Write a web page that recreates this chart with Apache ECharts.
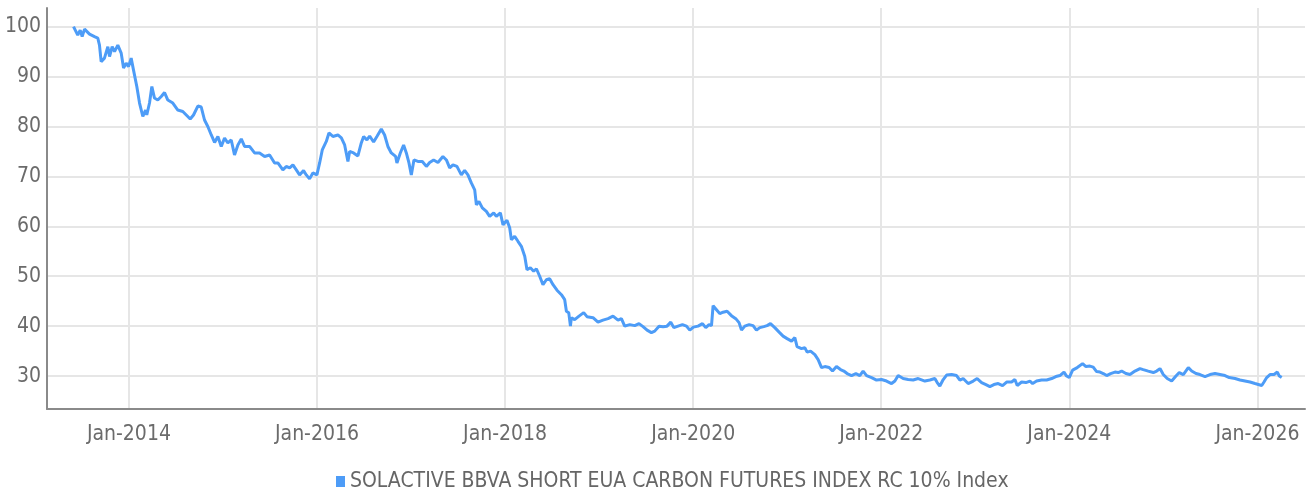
<!DOCTYPE HTML>
<html>
<head>
    <meta charset="utf-8">
    <title>SOLACTIVE BBVA SHORT EUA CARBON FUTURES INDEX</title>
    <style>
        html, body { margin: 0; padding: 0; background: #fff; }
        #container { width: 1312px; height: 493px; }
    </style>
</head>
<body>
<div id="container"></div>

<script type="text/javascript" src="https://cdn.jsdelivr.net/npm/echarts@6/dist/echarts.min.js"></script>
<script type="text/javascript">
    // dates as decimal years
    var dates = [
        2013.411, 2013.456, 2013.482, 2013.503, 2013.528, 2013.581, 2013.634, 2013.669, 2013.687, 2013.705,
        2013.740, 2013.776, 2013.794, 2013.822, 2013.847, 2013.882, 2013.918, 2013.943, 2013.971, 2013.996,
        2014.024, 2014.049, 2014.084, 2014.113, 2014.148, 2014.177, 2014.190, 2014.219, 2014.244, 2014.272,
        2014.307, 2014.344, 2014.379, 2014.414, 2014.467, 2014.520, 2014.573, 2014.610, 2014.652, 2014.687,
        2014.733, 2014.769, 2014.804, 2014.839, 2014.876, 2014.911, 2014.946, 2014.982, 2015.017, 2015.052,
        2015.088, 2015.123, 2015.159, 2015.195, 2015.230, 2015.283, 2015.336, 2015.389, 2015.443, 2015.496,
        2015.549, 2015.584, 2015.602, 2015.637, 2015.673, 2015.709, 2015.744, 2015.780, 2015.815, 2015.857,
        2015.886, 2015.921, 2015.956, 2015.999, 2016.028, 2016.056, 2016.099, 2016.127, 2016.169, 2016.222,
        2016.259, 2016.294, 2016.329, 2016.347, 2016.389, 2016.435, 2016.471, 2016.496, 2016.531, 2016.560,
        2016.602, 2016.637, 2016.684, 2016.719, 2016.754, 2016.790, 2016.836, 2016.850, 2016.886, 2016.921,
        2016.950, 2016.978, 2017.003, 2017.031, 2017.073, 2017.120, 2017.163, 2017.198, 2017.240, 2017.286,
        2017.339, 2017.376, 2017.411, 2017.446, 2017.488, 2017.535, 2017.570, 2017.605, 2017.641, 2017.677,
        2017.695, 2017.722, 2017.758, 2017.801, 2017.836, 2017.879, 2017.907, 2017.950, 2017.978, 2018.020,
        2018.049, 2018.067, 2018.102, 2018.137, 2018.173, 2018.209, 2018.233, 2018.269, 2018.304, 2018.333,
        2018.368, 2018.403, 2018.439, 2018.474, 2018.510, 2018.552, 2018.599, 2018.634, 2018.652, 2018.677,
        2018.695, 2018.705, 2018.740, 2018.786, 2018.836, 2018.871, 2018.935, 2018.988, 2019.041, 2019.095,
        2019.148, 2019.201, 2019.237, 2019.272, 2019.326, 2019.379, 2019.424, 2019.467, 2019.510, 2019.556,
        2019.591, 2019.637, 2019.680, 2019.722, 2019.762, 2019.794, 2019.839, 2019.886, 2019.929, 2019.964,
        2020.003, 2020.052, 2020.099, 2020.134, 2020.169, 2020.195, 2020.212, 2020.248, 2020.283, 2020.318,
        2020.361, 2020.407, 2020.453, 2020.488, 2020.514, 2020.549, 2020.595, 2020.637, 2020.673, 2020.709,
        2020.751, 2020.786, 2020.822, 2020.868, 2020.914, 2020.956, 2020.999, 2021.046, 2021.081, 2021.105,
        2021.152, 2021.187, 2021.212, 2021.248, 2021.294, 2021.329, 2021.365, 2021.400, 2021.446, 2021.482,
        2021.524, 2021.567, 2021.602, 2021.637, 2021.684, 2021.730, 2021.772, 2021.807, 2021.844, 2021.897,
        2021.950, 2022.003, 2022.056, 2022.110, 2022.145, 2022.180, 2022.233, 2022.286, 2022.339, 2022.393,
        2022.411, 2022.464, 2022.517, 2022.570, 2022.595, 2022.623, 2022.659, 2022.695, 2022.748, 2022.801,
        2022.836, 2022.871, 2022.924, 2022.978, 2023.020, 2023.067, 2023.113, 2023.155, 2023.198, 2023.244,
        2023.290, 2023.333, 2023.386, 2023.421, 2023.446, 2023.493, 2023.538, 2023.581, 2023.610, 2023.652,
        2023.705, 2023.759, 2023.812, 2023.857, 2023.900, 2023.943, 2023.971, 2023.999, 2024.035, 2024.084,
        2024.141, 2024.177, 2024.219, 2024.254, 2024.290, 2024.326, 2024.361, 2024.397, 2024.439, 2024.485,
        2024.520, 2024.556, 2024.602, 2024.645, 2024.698, 2024.751, 2024.786, 2024.839, 2024.893, 2024.929,
        2024.964, 2024.999, 2025.041, 2025.088, 2025.134, 2025.169, 2025.212, 2025.265, 2025.301, 2025.347,
        2025.389, 2025.443, 2025.496, 2025.549, 2025.602, 2025.655, 2025.701, 2025.762, 2025.815, 2025.868,
        2025.921, 2025.974, 2026.010, 2026.046, 2026.070, 2026.099, 2026.134, 2026.177, 2026.212, 2026.233,
        2026.258
    ];

    var indexValues = [
        100.0, 98.3, 99.3, 98.0, 99.5, 98.5, 98.0, 97.7, 96.3, 93.0,
        93.7, 96.0, 94.0, 96.0, 95.0, 96.3, 94.7, 91.7, 92.7, 92.0,
        93.7, 91.3, 88.0, 84.7, 82.0, 83.3, 82.3, 84.7, 88.0, 85.7,
        85.3, 86.0, 86.8, 85.3, 84.7, 83.3, 83.0, 82.3, 81.5, 82.3,
        84.1, 83.9, 81.3, 80.0, 78.3, 76.8, 78.0, 76.0, 77.7, 76.7,
        77.3, 74.3, 76.3, 77.5, 76.0, 76.0, 74.7, 74.7, 74.0, 74.3,
        72.7, 72.7, 73.0, 71.3, 72.0, 71.7, 72.3, 71.3, 70.3, 71.2,
        70.3, 69.5, 70.7, 70.3, 72.7, 75.3, 77.0, 78.7, 78.0, 78.3,
        77.7, 76.3, 73.0, 75.0, 74.7, 74.1, 76.7, 78.0, 77.3, 78.1,
        76.9, 78.0, 79.5, 78.3, 76.0, 74.7, 74.0, 72.7, 74.7, 76.3,
        74.7, 72.7, 70.3, 73.3, 73.0, 73.0, 72.0, 72.8, 73.3, 72.8,
        74.0, 73.3, 71.7, 72.3, 72.0, 70.3, 71.2, 70.3, 68.7, 67.3,
        64.3, 65.0, 63.7, 63.0, 62.0, 62.7, 62.0, 62.7, 60.3, 61.2,
        59.7, 57.3, 58.0, 57.0, 56.0, 54.0, 51.3, 51.7, 51.0, 51.5,
        50.0, 48.3, 49.3, 49.5, 48.3, 47.2, 46.3, 45.3, 43.0, 42.7,
        40.0, 41.7, 41.3, 42.0, 42.7, 41.9, 41.7, 40.8, 41.2, 41.5,
        42.0, 41.2, 41.5, 40.0, 40.3, 40.1, 40.5, 39.9, 39.2, 38.7,
        39.0, 40.0, 39.9, 40.0, 40.8, 39.7, 40.0, 40.3, 40.0, 39.2,
        39.8, 40.0, 40.5, 39.7, 40.3, 40.1, 44.1, 43.3, 42.5, 42.8,
        43.0, 42.1, 41.5, 40.7, 39.2, 40.0, 40.3, 40.1, 39.2, 39.7,
        39.9, 40.1, 40.5, 39.7, 38.8, 38.0, 37.5, 37.0, 37.7, 35.9,
        35.5, 35.7, 34.8, 35.0, 34.3, 33.3, 31.7, 31.9, 31.7, 31.0,
        31.9, 31.3, 31.0, 30.5, 30.1, 30.5, 30.1, 31.0, 30.1, 29.7,
        29.2, 29.3, 29.0, 28.5, 29.0, 30.1, 29.5, 29.3, 29.2, 29.5,
        29.2, 29.0, 29.2, 29.5, 28.7, 28.0, 29.3, 30.2, 30.3, 30.1,
        29.2, 29.5, 28.5, 29.0, 29.5, 28.7, 28.3, 27.9, 28.3, 28.5,
        28.1, 28.8, 28.8, 29.3, 28.1, 28.8, 28.7, 29.0, 28.5, 29.0,
        29.2, 29.2, 29.5, 29.9, 30.1, 30.8, 30.0, 29.7, 31.2, 31.7,
        32.5, 31.9, 32.0, 31.8, 30.9, 30.8, 30.5, 30.1, 30.5, 30.8,
        30.7, 31.0, 30.5, 30.3, 31.0, 31.5, 31.3, 31.0, 30.7, 31.0,
        31.5, 30.3, 29.5, 29.0, 30.0, 30.7, 30.3, 31.7, 31.0, 30.5,
        30.3, 29.9, 30.3, 30.5, 30.3, 30.1, 29.7, 29.5, 29.2, 29.0,
        28.8, 28.5, 28.3, 28.1, 28.8, 29.7, 30.3, 30.3, 30.8, 30.0,
        29.7
    ];

    var yearTicks = [2014, 2016, 2018, 2020, 2022, 2024, 2026];
    var valueTicks = [30, 40, 50, 60, 70, 80, 90, 100];
    var seriesName = 'SOLACTIVE BBVA SHORT EUA CARBON FUTURES INDEX RC 10% Index';

    var points = [];
    for (var i = 0; i < dates.length; i++) {
        points.push([dates[i], indexValues[i]]);
    }

    var fontName = '"DejaVu Sans Condensed", "Liberation Sans Narrow", sans-serif';

    var dom = document.getElementById("container");
    var myChart = echarts.init(dom, null, {renderer: 'canvas'});

    var option = {
        animation: false,
        color: ['#4d9cf7'],
        grid: {
            left: 47,
            right: 7,
            top: 8,
            bottom: 84,
            containLabel: false
        },
        legend: {
            top: 466,
            left: 331,
            icon: 'rect',
            itemWidth: 9,
            itemHeight: 11,
            itemGap: 10,
            textStyle: {
                fontFamily: fontName,
                fontSize: 21,
                color: '#666'
            },
            data: [seriesName]
        },
        xAxis: {
            type: 'value',
            min: 2013.129,
            max: 2026.506,
            axisLine: {
                show: true,
                onZero: false,
                lineStyle: {color: '#8a8a8a', width: 2}
            },
            axisTick: {show: false, customValues: yearTicks},
            axisLabel: {
                customValues: yearTicks,
                margin: 15,
                fontFamily: fontName,
                fontSize: 21,
                color: '#6b6b6b',
                formatter: function (v) {
                    return 'Jan-' + v;
                }
            },
            splitLine: {
                show: true,
                lineStyle: {color: '#e6e6e6', width: 2}
            }
        },
        yAxis: {
            type: 'value',
            min: 23.4,
            max: 103.74,
            axisLine: {
                show: true,
                lineStyle: {color: '#8a8a8a', width: 2}
            },
            axisTick: {show: false, customValues: valueTicks},
            axisLabel: {
                customValues: valueTicks,
                margin: 6,
                fontFamily: fontName,
                fontSize: 21,
                color: '#6b6b6b'
            },
            splitLine: {
                show: true,
                lineStyle: {color: '#e6e6e6', width: 2}
            }
        },
        series: [
            {
                name: seriesName,
                type: 'line',
                showSymbol: false,
                symbol: 'none',
                data: points,
                lineStyle: {width: 3}
            }
        ]
    };

    if (option && typeof option === "object") {
        myChart.setOption(option, true);
    }
</script>

</body>
</html>
